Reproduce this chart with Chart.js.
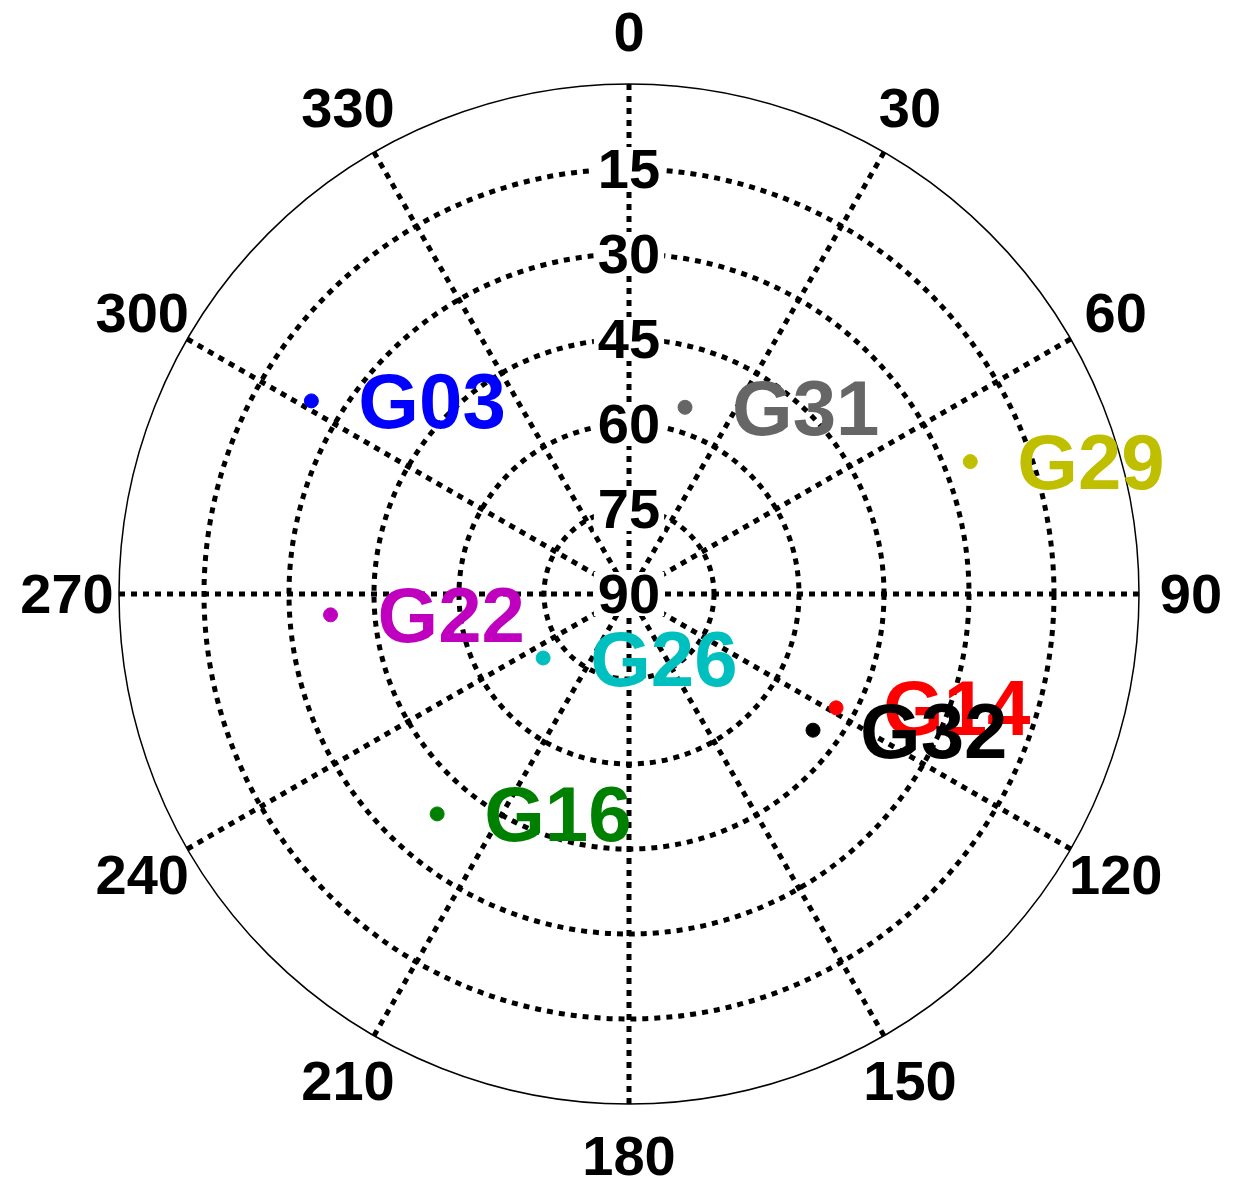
<!DOCTYPE html>
<html><head><meta charset="utf-8">
<script src="https://cdn.jsdelivr.net/npm/chart.js@4/dist/chart.umd.min.js"></script>
<style>html,body{margin:0;padding:0;background:#fff}#w{width:1238px;height:1199px}</style>
</head><body><div id="w"><canvas id="c"></canvas></div>
<script>
const satellites = ['G03','G31','G29','G22','G26','G14','G32','G16'];
const azimuths   = [301.3, 16.7, 68.8, 266.0, 233.3, 118.8, 126.5, 221.1];
const elevations = [24.4, 55.6, 25.4, 37.2, 71.1, 48.3, 49.6, 38.5];
const colors     = ['#0000ff','#666666','#bfbf00','#bf00bf','#00bfbf','#ff0000','#000000','#008000'];
const azTicks    = [0,30,60,90,120,150,180,210,240,270,300,330];
const elTicks    = [15,30,45,60,75,90];

const toXY = (az, el) => { const r = 90 - el, a = az*Math.PI/180; return {x: r*Math.sin(a), y: r*Math.cos(a)}; };
const FONT = 'Liberation Sans, Arial, sans-serif';

const polarGrid = {
  id:'polarGrid',
  beforeDatasetsDraw(chart){
    const {ctx, scales:{x,y}} = chart;
    const cx = x.getPixelForValue(0), cy = y.getPixelForValue(0);
    const R = x.getPixelForValue(90) - cx;
    ctx.save();
    ctx.strokeStyle='#000';
    ctx.lineWidth=1.5; ctx.setLineDash([]);
    ctx.beginPath(); ctx.arc(cx,cy,R,0,2*Math.PI); ctx.stroke();
    ctx.lineWidth=5; ctx.setLineDash([6,6]);
    elTicks.slice(0,-1).forEach(e=>{ const r=x.getPixelForValue(90-e)-cx; ctx.beginPath(); ctx.arc(cx,cy,r,0,2*Math.PI); ctx.stroke(); });
    azTicks.forEach(a=>{ const p=toXY(a,0); ctx.beginPath(); ctx.moveTo(cx,cy); ctx.lineTo(x.getPixelForValue(p.x), y.getPixelForValue(p.y)); ctx.stroke(); });
    ctx.setLineDash([]);
    ctx.font='bold 56px '+FONT; ctx.textAlign='center'; ctx.textBaseline='middle';
    elTicks.forEach(e=>{ const py=y.getPixelForValue(90-e); const w=ctx.measureText(String(e)).width;
      ctx.fillStyle='#fff'; ctx.fillRect(cx-w/2-4,py-22,w+8,44); ctx.fillStyle='#000'; ctx.fillText(String(e),cx,py+4); });
    azTicks.forEach(a=>{ const rr=R+52, t=a*Math.PI/180; ctx.fillStyle='#000';
      ctx.fillText(String(a), cx+rr*Math.sin(t), cy-rr*Math.cos(t)+4); });
    ctx.restore();
  },
  afterDatasetsDraw(chart){
    const {ctx, scales:{x,y}} = chart;
    ctx.save(); ctx.font='bold 78px '+FONT; ctx.textAlign='left'; ctx.textBaseline='middle';
    satellites.forEach((s,i)=>{ const p=toXY(azimuths[i],elevations[i]);
      ctx.fillStyle=colors[i]; ctx.fillText(s, x.getPixelForValue(p.x)+47, y.getPixelForValue(p.y)+6); });
    ctx.restore();
  }
};

new Chart(document.getElementById('c'), {
  type:'scatter',
  data:{datasets: satellites.map((s,i)=>({label:s, data:[toXY(azimuths[i],elevations[i])],
    backgroundColor:colors[i], borderColor:colors[i], pointRadius:7}))},
  options:{responsive:true, maintainAspectRatio:false, animation:false,
    layout:{padding:{left:119,right:99,top:84,bottom:95}},
    plugins:{legend:{display:false},tooltip:{enabled:false}},
    scales:{x:{type:'linear',min:-90,max:90,display:false},y:{type:'linear',min:-90,max:90,display:false}}},
  plugins:[polarGrid]
});
</script></body></html>
